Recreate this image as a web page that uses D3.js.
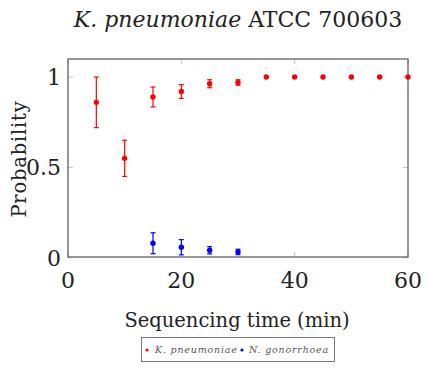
<!DOCTYPE html>
<html>
<head>
<meta charset="utf-8">
<script src="https://cdn.jsdelivr.net/npm/d3@7"></script>
<style>
  body { margin: 0; background: #fff; }
  text { font-family: "DejaVu Serif", serif; fill: #222; }
</style>
</head>
<body>
<div id="chart"></div>
<script>
// red series: K. pneumoniae
const kpTime = [5, 10, 15, 20, 25, 30, 35, 40, 45, 50, 55, 60];
const kpProb = [0.86, 0.55, 0.89, 0.92, 0.963, 0.97, 1, 1, 1, 1, 1, 1];
const kpErr  = [0.14, 0.10, 0.055, 0.038, 0.022, 0.015, 0, 0, 0, 0, 0, 0];
// blue series: N. gonorrhoea
const ngTime = [15, 20, 25, 30];
const ngProb = [0.08, 0.058, 0.041, 0.032];
const ngErr  = [0.058, 0.042, 0.02, 0.015];
const xTicks = [0, 20, 40, 60];
const yTicks = [0, 0.5, 1];

const width = 428;
const height = 370;
const margin = { top: 59, bottom: 113, left: 68, right: 20 };

const svg = d3.select('#chart')
  .append('svg')
  .attr('width', width)
  .attr('height', height);

const x = d3.scaleLinear()
  .domain([0, 60])
  .range([margin.left, width - margin.right]);

const y = d3.scaleLinear()
  .domain([0, 1.1])
  .range([height - margin.bottom + 0.7, margin.top]);

const bottom = height - margin.bottom;

// ticks inside the frame
const tg = svg.append('g').attr('stroke', '#b0b0b0').attr('stroke-width', 0.8);
tg.selectAll('.xt').data(xTicks).join('line')
  .attr('x1', d => x(d)).attr('x2', d => x(d))
  .attr('y1', bottom).attr('y2', bottom - 5);
tg.selectAll('.xt2').data(xTicks).join('line')
  .attr('x1', d => x(d)).attr('x2', d => x(d))
  .attr('y1', margin.top).attr('y2', margin.top + 5);
tg.selectAll('.yt').data(yTicks).join('line')
  .attr('x1', margin.left).attr('x2', margin.left + 5)
  .attr('y1', d => y(d)).attr('y2', d => y(d));
tg.selectAll('.yt2').data(yTicks).join('line')
  .attr('x1', width - margin.right).attr('x2', width - margin.right - 5)
  .attr('y1', d => y(d)).attr('y2', d => y(d));

// frame
svg.append('rect')
  .attr('x', margin.left).attr('y', margin.top)
  .attr('width', width - margin.left - margin.right)
  .attr('height', bottom - margin.top)
  .attr('fill', 'none').attr('stroke', '#555').attr('stroke-width', 1.2);

// tick labels
svg.append('g').selectAll('text').data(xTicks).join('text')
  .attr('x', d => x(d)).attr('y', 288)
  .attr('text-anchor', 'middle').attr('font-size', 22)
  .text(d => d);
svg.append('g').selectAll('text').data(yTicks).join('text')
  .attr('x', margin.left - 7).attr('y', d => y(d) + 8)
  .attr('text-anchor', 'end').attr('font-size', 22)
  .text(d => d);

// axis labels
svg.append('text')
  .attr('x', 237).attr('y', 327)
  .attr('text-anchor', 'middle').attr('font-size', 19.5)
  .text('Sequencing time (min)');
svg.append('text')
  .attr('transform', 'translate(26,159) rotate(-90)')
  .attr('text-anchor', 'middle').attr('font-size', 19.5)
  .attr('letter-spacing', 0.8)
  .text('Probability');

// title
const title = svg.append('text')
  .attr('x', 238).attr('y', 27)
  .attr('text-anchor', 'middle').attr('font-size', 22);
title.append('tspan').attr('font-style', 'italic').text('K. pneumoniae');
title.append('tspan').text(' ATCC 700603');

function drawSeries(xs, ys, es, color) {
  const data = xs.map((t, i) => ({ t, p: ys[i], e: es[i] }));
  const g = svg.append('g');
  const eb = g.selectAll('g.err').data(data.filter(d => d.e > 0)).join('g')
    .attr('stroke', color).attr('stroke-width', 1.2);
  eb.append('line')
    .attr('x1', d => x(d.t)).attr('x2', d => x(d.t))
    .attr('y1', d => y(d.p - d.e)).attr('y2', d => y(d.p + d.e));
  eb.append('line')
    .attr('x1', d => x(d.t) - 2.5).attr('x2', d => x(d.t) + 2.5)
    .attr('y1', d => y(d.p - d.e)).attr('y2', d => y(d.p - d.e));
  eb.append('line')
    .attr('x1', d => x(d.t) - 2.5).attr('x2', d => x(d.t) + 2.5)
    .attr('y1', d => y(d.p + d.e)).attr('y2', d => y(d.p + d.e));
  g.selectAll('circle').data(data).join('circle')
    .attr('cx', d => x(d.t)).attr('cy', d => y(d.p))
    .attr('r', 2.7).attr('fill', color);
}

drawSeries(kpTime, kpProb, kpErr, '#ff0000');
drawSeries(ngTime, ngProb, ngErr, '#0000ff');

// legend
const lg = svg.append('g');
lg.append('rect')
  .attr('x', 141.5).attr('y', 337.5).attr('width', 193).attr('height', 24)
  .attr('fill', '#fff').attr('stroke', '#555').attr('stroke-width', 0.8);
lg.append('circle').attr('cx', 147).attr('cy', 350).attr('r', 1.6).attr('fill', '#ff0000');
lg.append('text').attr('x', 155).attr('y', 352.5).attr('font-size', 9.5)
  .attr('letter-spacing', 0.8).attr('font-style', 'italic')
  .style('fill', '#555').text('K. pneumoniae');
lg.append('circle').attr('cx', 242).attr('cy', 350).attr('r', 1.6).attr('fill', '#0000ff');
lg.append('text').attr('x', 249).attr('y', 352.5).attr('font-size', 9.5)
  .attr('letter-spacing', 0.8).attr('font-style', 'italic')
  .style('fill', '#555').text('N. gonorrhoea');
</script>
</body>
</html>
